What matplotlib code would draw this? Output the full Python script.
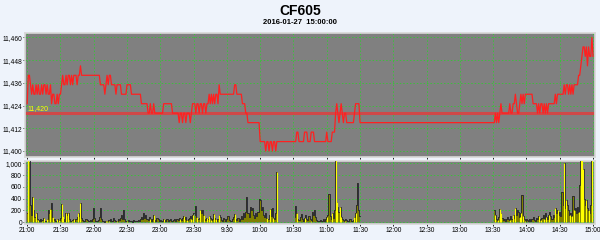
import numpy as np
import matplotlib.pyplot as plt

# minute positions on the time axis (night gap removed, day breaks kept)
night_min = np.arange(0, 151)
am1_min = np.arange(151, 226)
am2_min = np.arange(241, 301)
pm_min = np.arange(421, 511)

night_price = ([11425, 11440, 11440, 11435]
    + [11430, 11435, 11430, 11430, 11435, 11430, 11435, 11430, 11430, 11435, 11430, 11435, 11435, 11430, 11435, 11430, 11430, 11435]
    + [11425, 11430, 11430, 11425, 11425, 11430, 11425, 11430, 11430]
    + [11435, 11440, 11435, 11435, 11440, 11435, 11440, 11440, 11435, 11440, 11435, 11440, 11440, 11440, 11435, 11440, 11440, 11445]
    + [11440] * 17
    + [11435, 11435, 11435, 11435, 11430, 11435, 11440, 11435, 11440, 11440, 11435, 11435, 11435, 11435, 11430, 11435, 11435, 11435, 11435]
    + [11430] * 5 + [11435] * 4 + [11430] * 9
    + [11425] * 6
    + [11420, 11420, 11425, 11420, 11420, 11425] + [11420] * 8
    + [11425] * 8
    + [11420] * 6
    + [11415, 11420, 11420, 11415, 11420, 11420, 11415, 11420, 11420, 11420, 11415, 11420]
    + [11425, 11425])

am1_price = ([11425, 11420, 11425, 11425, 11420, 11425, 11425, 11420, 11425, 11425, 11420, 11425, 11425, 11430, 11425, 11430]
    + [11425, 11430, 11425, 11430, 11430, 11425, 11435]
    + [11430] * 13 + [11435] * 2 + [11430] * 5 + [11425] * 3 + [11420] * 2
    + [11415] * 11 + [11405] * 4
    + [11405, 11400, 11405, 11405, 11400, 11405, 11405, 11400, 11405, 11405, 11400, 11405])

am2_price = ([11405, 11405, 11410, 11410] + [11405] * 5 + [11410] * 3 + [11405] * 3 + [11410] * 3
    + [11405] * 11 + [11410] + [11405] * 4 + [11410] * 3 + [11420, 11425]
    + [11420, 11415, 11420, 11425, 11420, 11415, 11420, 11420]
    + [11415] * 7 + [11420] + [11425] * 4 + [11415])

pm_price = ([11415, 11420, 11415, 11420, 11415, 11420, 11425] + [11420] * 7
    + [11425, 11420, 11420, 11425, 11425, 11430, 11425, 11420, 11420]
    + [11425, 11430, 11425, 11430, 11425, 11430] + [11430] * 6 + [11425] * 4
    + [11420, 11425, 11420, 11425, 11425, 11420, 11425, 11420, 11425, 11420, 11425]
    + [11425] * 5 + [11430, 11425] + [11430] * 6
    + [11435, 11430, 11435, 11435, 11430, 11435, 11430, 11435, 11430]
    + [11435] * 4 + [11440] * 2
    + [11445, 11450, 11455, 11455, 11450, 11455, 11445, 11455, 11450, 11450, 11460, 11450])

night_vol = [150, 1100, 1100, 300, 120, 420, 200, 90, 160, 60, 40, 30, 50, 20, 40, 70, 30, 20, 60, 210,
    150, 230, 320, 90, 40, 60, 30, 50, 20, 40, 80, 310, 100, 50, 30, 150, 120, 160, 60, 30,
    20, 40, 50, 30, 60, 90, 150, 110, 330, 80, 40, 30, 20, 50, 40, 30, 20, 40, 30, 60,
    240, 70, 30, 20, 40, 90, 250, 60, 30, 20, 10, 30, 20, 40, 30, 50, 20, 30, 70, 40,
    20, 30, 60, 40, 80, 120, 60, 200, 50, 30, 20, 40, 30, 20, 30, 10, 40, 20, 30, 20,
    40, 30, 60, 90, 50, 150, 80, 130, 60, 40, 90, 60, 30, 50, 120, 40, 30, 70, 50, 30,
    40, 20, 30, 60, 40, 20, 50, 30, 40, 60, 30, 20, 40, 50, 30, 60, 40, 80, 50, 40,
    70, 100, 60, 90, 40, 60, 80, 100, 50, 120, 150]
am1_vol = [120, 280, 90, 60, 80, 210, 150, 200, 120, 60, 40, 80, 50, 110, 70, 40, 60, 140, 80, 50,
    30, 60, 120, 90, 40, 30, 70, 50, 30, 60, 110, 40, 30, 20, 50, 90, 140, 60, 40, 70,
    30, 50, 100, 60, 150, 90, 180, 420, 160, 90, 260, 200, 250, 120, 80, 150, 100, 180, 400, 380,
    200, 260, 120, 90, 150, 80, 60, 120, 230, 100, 240, 80, 60, 150, 860]
am2_vol = [90, 280, 150, 60, 40, 90, 140, 60, 30, 80, 120, 50, 40, 100, 60, 30, 180, 120, 200, 90,
    40, 30, 20, 40, 30, 20, 50, 30, 60, 90, 120, 480, 100, 60, 150, 80, 200, 1100, 350, 260,
    180, 260, 90, 60, 40, 30, 60, 40, 20, 30, 50, 30, 20, 40, 90, 150, 300, 660, 200, 100]
pm_vol = [200, 120, 60, 40, 90, 220, 150, 80, 40, 60, 30, 50, 90, 60, 40, 100, 60, 130, 80, 250,
    120, 200, 180, 90, 150, 460, 100, 50, 30, 60, 40, 20, 50, 30, 60, 90, 40, 30, 70, 50,
    100, 60, 40, 80, 120, 60, 150, 90, 60, 120, 180, 100, 60, 130, 90, 240, 150, 200, 120, 180,
    100, 520, 300, 1010, 250, 380, 300, 200, 120, 160, 100, 450, 200, 240, 150, 260, 180, 630, 1100, 1100,
    900, 400, 300, 380, 250, 200, 150, 300, 1100, 1100]

tick_pos = np.arange(0, 511, 30)
tick_labels = ['21:00', '21:30', '22:00', '22:30', '23:00', '23:30', '9:30', '10:00', '10:30',
               '11:00', '11:30', '12:00', '12:30', '13:00', '13:30', '14:00', '14:30', '15:00']
price_ticks = [11400, 11412, 11424, 11436, 11448, 11460]
vol_ticks = [0, 200, 400, 600, 800, 1000]
ref_price = 11420

sessions = [(night_min, night_price, night_vol), (am1_min, am1_price, am1_vol),
            (am2_min, am2_price, am2_vol), (pm_min, pm_price, pm_vol)]
minutes = np.concatenate([s[0] for s in sessions])
price = np.concatenate([s[1] for s in sessions])

plt.rcParams['font.family'] = ['Liberation Sans', 'DejaVu Sans']

bg = '#eef3fb'
panel = '#808080'
grid = '#3cbf3c'

fig = plt.figure(figsize=(6, 2.4), dpi=100, facecolor=bg)
ax1 = fig.add_axes([0.042, 0.3446, 0.9497, 0.5192], facecolor=panel)
ax2 = fig.add_axes([0.042, 0.0667, 0.9497, 0.2638], facecolor=panel)

for ax in (ax1, ax2):
    ax.set_xlim(-1.8, 511.8)
    ax.set_xticks(tick_pos)
    ax.grid(True, color=grid, linestyle=(0, (1.5, 2)), linewidth=0.7)
    ax.set_axisbelow(True)
    for sp in ax.spines.values():
        sp.set_color('#d8d8d8')
        sp.set_linewidth(1.2)
    ax.tick_params(length=1.5, width=0.6, labelsize=4.8, pad=0.8, colors='black')

ax1.axhline(ref_price, color='#d04848', linewidth=2.2, zorder=2)
ax1.plot(minutes, price, color='#ff2020', linewidth=0.9, zorder=3)
ax1.set_ylim(11396.7, 11462.5)
ax1.set_yticks(price_ticks)
ax1.set_yticklabels([f'{v:,}' for v in price_ticks])
ax1.set_xticklabels([])
ax1.text(0, ref_price + 0.6, f'{ref_price:,}', color='#ffff00', fontsize=5, va='bottom', ha='left')

for mins, pr, vol in sessions:
    ax2.fill_between(mins, vol, 0, step='mid', color='#808000', linewidth=0, zorder=2)
    ax2.plot(mins, vol, drawstyle='steps-mid', color='#202030', linewidth=0.6, zorder=3)
    up = np.r_[False, np.diff(pr) > 0]
    ax2.vlines(mins[up], 0, np.array(vol)[up], color='#ffff00', linewidth=0.8, zorder=4)
ax2.set_ylim(-29, 1044)
ax2.set_yticks(vol_ticks)
ax2.set_yticklabels([f'{v:,}' for v in vol_ticks])
ax2.set_xticklabels(tick_labels)

fig.text(0.5, 0.955, 'CF605', ha='center', va='center', fontsize=10, fontweight='bold')
fig.text(0.5, 0.905, '2016-01-27  15:00:00', ha='center', va='center', fontsize=5.5, fontweight='bold')

fig.savefig('out.png', dpi=100, facecolor=bg)
